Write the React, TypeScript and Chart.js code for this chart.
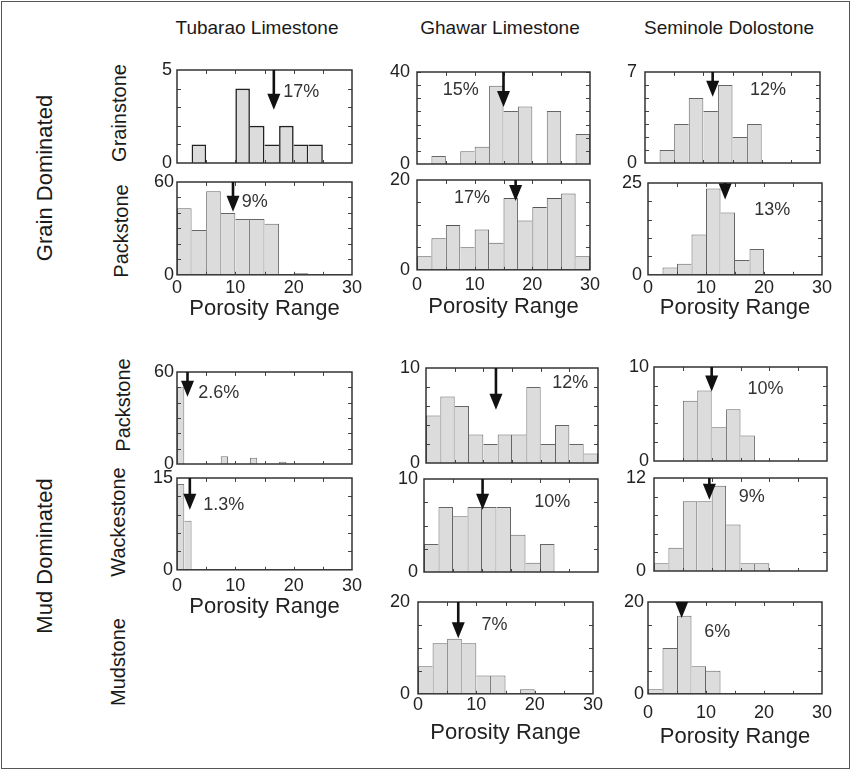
import React, { useEffect, useRef } from "react";
import { Chart, registerables } from "chart.js";

Chart.register(...registerables);

const FONT = '"Liberation Sans", Arial, Helvetica, sans-serif';

// ---- bins (porosity %, bin centres) ----
const binCenters = [1.25, 3.75, 6.25, 8.75, 11.25, 13.75, 16.25, 18.75, 21.25, 23.75, 26.25, 28.75];
const fineBinCenters = [
  0.625, 1.875, 3.125, 4.375, 5.625, 6.875, 8.125, 9.375, 10.625, 11.875, 13.125, 14.375,
  15.625, 16.875, 18.125, 19.375, 20.625, 21.875, 23.125, 24.375, 25.625, 26.875, 28.125, 29.375,
];
const xTickValues = [0, 10, 20, 30];

// ---- histogram counts ----
const tubaraoGrainstone = [0, 1, 0, 0, 4, 2, 1, 2, 1, 1, 0, 0];
const tubaraoPackstone = [43, 29, 54, 40, 36, 36, 33, 0, 1, 0, 0, 0];
const ghawarGrainstone = [0, 3.5, 0, 5.5, 7.5, 34, 23, 25, 0, 23, 0, 13];
const ghawarPackstone = [3, 7, 10, 5, 9, 6, 16, 11, 14, 16, 17, 3];
const seminoleGrainstone = [0, 1, 3, 5, 4, 6, 2, 3, 0, 0, 0, 0];
const seminolePackstone = [0, 2, 3, 11, 23.5, 17, 4, 7, 0, 0, 0, 0];
const tubaraoMudPackstone = [50, 0, 0, 0, 0, 0, 5, 0, 0, 0, 4, 0, 0, 0, 1.5, 0, 0, 0, 0, 0, 0, 0, 0, 0];
const tubaraoWackestone = [14, 8, 0, 0, 0, 0, 0, 0, 0, 0, 0, 0, 0, 0, 0, 0, 0, 0, 0, 0, 0, 0, 0, 0];
const ghawarMudPackstone = [5, 7, 6, 3, 2, 3, 3, 8, 2, 4, 2, 1];
const ghawarWackestone = [3, 7, 6, 7, 7, 7, 4, 1, 3, 0, 0, 0];
const ghawarMudstone = [6, 11, 12, 11, 4, 4, 0, 1, 0, 0, 0, 0];
const seminoleMudPackstone = [0, 0, 6.4, 7.5, 3.6, 5.5, 2.7, 0, 0, 0, 0, 0];
const seminoleWackestone = [1, 3, 9, 9, 11, 6, 1, 1, 0, 0, 0, 0];
const seminoleMudstone = [1, 10, 17, 6, 5, 0, 0, 0, 0, 0, 0, 0];

// ---- per-panel annotations (panel order: TG, TP, GG, GP, SG, SP, TMP, TW, GMP, GW, GM, SMP, SW, SM) ----
const yMaxes = [5, 60, 40, 20, 7, 25, 60, 15, 10, 10, 20, 10, 12, 20];
const yTickSteps = [1, 10, 5.714, 5, 1, 5, 10, 3, 2, 2.5, 5, 2, 2.4, 5];
const meanLabels = ["17%", "9%", "15%", "17%", "12%", "13%", "2.6%", "1.3%", "12%", "10%", "7%", "10%", "9%", "6%"];
const arrowXs = [16.6, 9.6, 15.0, 17.1, 11.6, 13.3, 1.8, 2.2, 12.2, 10.1, 6.9, 10.0, 9.6, 5.8];
const arrowTips = [2.86, 40.7, 24.8, 15.3, 5.1, 20.5, 43.9, 9.8, 5.6, 6.7, 12.1, 7.4, 9.2, 16.5];
const labelXs = [18.2, 11.1, 4.45, 6.4, 18.0, 18.3, 3.65, 4.5, 22, 19.0, 10.9, 16.2, 14.7, 9.7];
const labelYs = [3.82, 47.1, 32, 15.9, 5.6, 17.6, 46.1, 10.6, 8.4, 7.5, 15, 7.7, 9.6, 13.5];

const panelValues = [
  tubaraoGrainstone, tubaraoPackstone, ghawarGrainstone, ghawarPackstone, seminoleGrainstone, seminolePackstone,
  tubaraoMudPackstone, tubaraoWackestone, ghawarMudPackstone, ghawarWackestone, ghawarMudstone,
  seminoleMudPackstone, seminoleWackestone, seminoleMudstone,
];
const panelCenters = [
  binCenters, binCenters, binCenters, binCenters, binCenters, binCenters,
  fineBinCenters, fineBinCenters, binCenters, binCenters, binCenters, binCenters, binCenters, binCenters,
];

// ---- layout (pixels) ----
type Layout = {
  box: [number, number, number, number];
  labels: boolean;
  tickPad: number;
  titleOffset: number;
  yPad: number;
  border: string;
  borderW: number;
};
const layouts: Layout[] = [
  { box: [177, 70, 175, 93], labels: false, tickPad: 0, titleOffset: 0, yPad: 5, border: "#222", borderW: 1.6 },
  { box: [177, 182, 175, 93], labels: true, tickPad: 2, titleOffset: 34, yPad: 3, border: "#666", borderW: 1 },
  { box: [417, 72, 173, 92], labels: false, tickPad: 0, titleOffset: 0, yPad: 7, border: "#666", borderW: 1 },
  { box: [417, 180, 173, 90], labels: true, tickPad: 4, titleOffset: 37, yPad: 7, border: "#555", borderW: 1 },
  { box: [645, 72, 175, 91], labels: false, tickPad: 0, titleOffset: 0, yPad: 8, border: "#666", borderW: 1 },
  { box: [648, 183, 174, 92], labels: true, tickPad: 2, titleOffset: 33, yPad: 6, border: "#666", borderW: 1 },
  { box: [177, 372, 175, 92], labels: false, tickPad: 0, titleOffset: 0, yPad: 3, border: "#777", borderW: 1 },
  { box: [177, 478, 175, 92], labels: true, tickPad: 5, titleOffset: 37, yPad: 4, border: "#777", borderW: 1 },
  { box: [426, 368, 172, 95], labels: false, tickPad: 0, titleOffset: 0, yPad: 6, border: "#666", borderW: 1 },
  { box: [424, 479, 174, 93], labels: false, tickPad: 0, titleOffset: 0, yPad: 6, border: "#666", borderW: 1 },
  { box: [418, 602, 175, 92], labels: true, tickPad: 0, titleOffset: 39, yPad: 8, border: "#666", borderW: 1 },
  { box: [654, 367, 173, 94], labels: false, tickPad: 0, titleOffset: 0, yPad: 5, border: "#666", borderW: 1 },
  { box: [654, 478, 173, 93], labels: false, tickPad: 0, titleOffset: 0, yPad: 8, border: "#666", borderW: 1 },
  { box: [648, 602, 174, 92], labels: true, tickPad: 8, titleOffset: 43, yPad: 4, border: "#666", borderW: 1 },
];

const PAD_L = 50;
const PAD_T = 14;
const PAD_R = 18;
const PAD_B = 10;

const decorPlugin = {
  id: "decor",
  afterDatasetsDraw(chart: any, _args: any, opts: any) {
    const { ctx, chartArea: a } = chart;
    const x = chart.scales.x;
    const y = chart.scales.y;
    ctx.save();
    // inward ticks
    ctx.strokeStyle = "#444";
    ctx.lineWidth = 1;
    ctx.beginPath();
    for (let v = 5; v < 30; v += 5) {
      const px = Math.round(x.getPixelForValue(v)) + 0.5;
      ctx.moveTo(px, a.top);
      ctx.lineTo(px, a.top + 4);
      ctx.moveTo(px, a.bottom);
      ctx.lineTo(px, a.bottom - 3);
    }
    for (let v = opts.yStep; v < opts.yMax - 1e-6; v += opts.yStep) {
      const py = Math.round(y.getPixelForValue(v)) + 0.5;
      ctx.moveTo(a.left, py);
      ctx.lineTo(a.left + 4, py);
      ctx.moveTo(a.right, py);
      ctx.lineTo(a.right - 4, py);
    }
    ctx.stroke();
    // frame
    ctx.strokeStyle = "#333";
    ctx.lineWidth = 1.5;
    ctx.strokeRect(a.left, a.top, a.right - a.left, a.bottom - a.top);
    // arrow
    const ax = x.getPixelForValue(opts.arrowX);
    const tip = y.getPixelForValue(opts.arrowTip);
    const headH = 16;
    const headW = 6.5;
    ctx.fillStyle = "#111";
    const stemEnd = tip - headH;
    if (stemEnd > a.top) ctx.fillRect(ax - 1.3, a.top, 2.6, stemEnd - a.top + 1);
    ctx.beginPath();
    ctx.moveTo(ax - headW, tip - headH);
    ctx.lineTo(ax + headW, tip - headH);
    ctx.lineTo(ax, tip);
    ctx.closePath();
    ctx.fill();
    // mean label
    ctx.fillStyle = "#333";
    ctx.font = `18px ${FONT}`;
    ctx.textAlign = "left";
    ctx.textBaseline = "middle";
    ctx.fillText(opts.label, x.getPixelForValue(opts.labelX), y.getPixelForValue(opts.labelY));
    ctx.restore();
  },
};

function Histogram({ idx }: { idx: number }) {
  const ref = useRef<HTMLCanvasElement>(null);
  const lay = layouts[idx];
  const [l, t, w, h] = lay.box;
  const axisH = lay.labels ? lay.titleOffset + 13.2 : 0;
  const cw = PAD_L + w + PAD_R;
  const ch = Math.round(PAD_T + h + axisH + PAD_B);

  useEffect(() => {
    const values = panelValues[idx];
    const centers = panelCenters[idx];
    const yMax = yMaxes[idx];
    const bw = lay.borderW;
    const chart = new Chart(ref.current as HTMLCanvasElement, {
      type: "bar",
      data: {
        datasets: [
          {
            data: centers.map((c, i) => ({ x: c, y: values[i] })),
            backgroundColor: "#dcdcdc",
            borderColor: lay.border,
            borderWidth: (c: any) => {
              const i = c.dataIndex;
              const v = values[i] || 0;
              const prev = i > 0 ? values[i - 1] : 0;
              const next = i < values.length - 1 ? values[i + 1] : 0;
              return { top: bw, bottom: 0, left: prev < v ? bw : 0, right: v >= next ? bw : 0 };
            },
            borderSkipped: false,
            barPercentage: 1,
            categoryPercentage: 1,
            inflateAmount: 0,
          } as any,
        ],
      },
      options: {
        animation: false,
        responsive: false,
        devicePixelRatio: 1,
        layout: { padding: { top: PAD_T, right: PAD_R, left: 0, bottom: PAD_B } },
        plugins: {
          legend: { display: false },
          tooltip: { enabled: false },
          decor: {
            yMax,
            yStep: yTickSteps[idx],
            arrowX: arrowXs[idx],
            arrowTip: arrowTips[idx],
            label: meanLabels[idx],
            labelX: labelXs[idx],
            labelY: labelYs[idx],
          },
        } as any,
        scales: {
          x: {
            type: "linear",
            min: 0,
            max: 30,
            offset: false,
            grid: { display: false, drawTicks: false },
            border: { display: false },
            afterBuildTicks: (s: any) => {
              s.ticks = xTickValues.map((v) => ({ value: v }));
            },
            ticks: {
              display: lay.labels,
              padding: lay.tickPad,
              autoSkip: false,
              maxRotation: 0,
              color: "#222",
              font: { family: FONT, size: 18 },
            },
            title: {
              display: lay.labels,
              text: "Porosity Range",
              color: "#222",
              font: { family: FONT, size: 22 },
              padding: 0,
            },
            afterFit: (s: any) => {
              s.height = axisH;
              s.paddingLeft = 0;
              s.paddingRight = 0;
            },
          } as any,
          y: {
            type: "linear",
            min: 0,
            max: yMax,
            grid: { display: false, drawTicks: false },
            border: { display: false },
            afterBuildTicks: (s: any) => {
              s.ticks = [{ value: 0 }, { value: yMax }];
            },
            ticks: {
              padding: lay.yPad,
              color: "#222",
              font: { family: FONT, size: 18 },
            },
            afterFit: (s: any) => {
              s.width = PAD_L;
              s.paddingTop = 0;
              s.paddingBottom = 0;
            },
          } as any,
        },
      },
      plugins: [decorPlugin],
    });
    return () => chart.destroy();
  }, []);

  return (
    <canvas
      ref={ref}
      width={cw}
      height={ch}
      style={{ position: "absolute", left: l - PAD_L, top: t - PAD_T, width: cw, height: ch }}
    />
  );
}

const colTitles = [
  { text: "Tubarao Limestone", cx: 257 },
  { text: "Ghawar Limestone", cx: 500 },
  { text: "Seminole Dolostone", cx: 729 },
];
const rowLabels = [
  { text: "Grainstone", cx: 119, cy: 113 },
  { text: "Packstone", cx: 121, cy: 231 },
  { text: "Packstone", cx: 123, cy: 405 },
  { text: "Wackestone", cx: 118, cy: 522 },
  { text: "Mudstone", cx: 118, cy: 662 },
];
const groupLabels = [
  { text: "Grain Dominated", cx: 45, cy: 178 },
  { text: "Mud Dominated", cx: 45, cy: 556 },
];

export default function App() {
  return (
    <div
      style={{
        position: "absolute",
        left: 0,
        top: 0,
        width: 852,
        height: 771,
        background: "#fff",
        fontFamily: FONT,
        color: "#1a1a1a",
        overflow: "hidden",
      }}
    >
      <div
        style={{
          position: "absolute",
          left: 1,
          top: 1,
          width: 847,
          height: 766,
          border: "1px solid #555",
        }}
      />
      {colTitles.map((c, i) => (
        <div
          key={"c" + i}
          style={{
            position: "absolute",
            left: c.cx,
            top: 28,
            transform: "translate(-50%, -50%)",
            whiteSpace: "nowrap",
            fontSize: 19,
          }}
        >
          {c.text}
        </div>
      ))}
      {groupLabels.map((g, i) => (
        <div
          key={"g" + i}
          style={{
            position: "absolute",
            left: g.cx,
            top: g.cy,
            transform: "translate(-50%, -50%) rotate(-90deg)",
            whiteSpace: "nowrap",
            fontSize: 22,
          }}
        >
          {g.text}
        </div>
      ))}
      {rowLabels.map((r, i) => (
        <div
          key={"r" + i}
          style={{
            position: "absolute",
            left: r.cx,
            top: r.cy,
            transform: "translate(-50%, -50%) rotate(-90deg)",
            whiteSpace: "nowrap",
            fontSize: 20,
          }}
        >
          {r.text}
        </div>
      ))}
      {layouts.map((_, i) => (
        <Histogram key={i} idx={i} />
      ))}
    </div>
  );
}
